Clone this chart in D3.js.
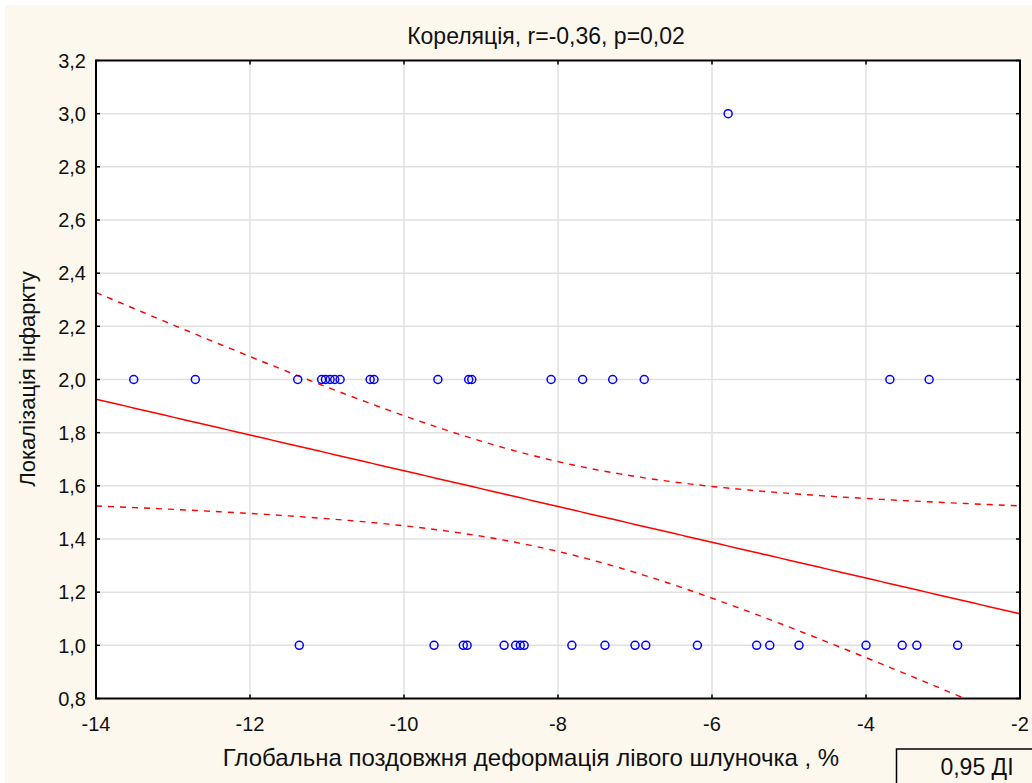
<!DOCTYPE html>
<html>
<head>
<meta charset="utf-8">
<script src="https://cdn.jsdelivr.net/npm/d3@7"></script>
<style>
  body { margin: 0; background: #fff; }
  svg { display: block; font-family: "Liberation Sans", Arial, sans-serif; }
</style>
</head>
<body>
<script>
// points (strain %, localisation code)
const xsTop = [-13.51, -12.71, -11.38, -11.07, -11.02, -10.96, -10.9, -10.83, -10.44, -10.39,
  -9.56, -9.16, -9.12, -8.09, -7.68, -7.29, -6.88, -3.69, -3.18]
const xsBottom = [-11.36, -9.61, -9.23, -9.18, -8.7, -8.55, -8.49, -8.44, -7.82, -7.39,
  -7.0, -6.86, -6.19, -5.42, -5.25, -4.87, -4.0, -3.53, -3.34, -2.81]
const xsThree = [-5.79]

const xTicks = [-14, -12, -10, -8, -6, -4, -2]
const yTicks = [0.8, 1.0, 1.2, 1.4, 1.6, 1.8, 2.0, 2.2, 2.4, 2.6, 2.8, 3.0, 3.2]
const titleText = "Кореляція, r=-0,36, p=0,02"
const xTitle = "Глобальна поздовжня деформація лівого шлуночка , %"
const yTitle = "Локалізація інфаркту"
const legendText = "0,95 ДІ"

const points = []
xsTop.forEach(v => points.push({ x: v, y: 2 }))
xsBottom.forEach(v => points.push({ x: v, y: 1 }))
xsThree.forEach(v => points.push({ x: v, y: 3 }))

const width = 1032
const height = 783
const pLeft = 96, pRight = 1020, pTop = 60.5, pBottom = 698.5

let svg = d3.select("body").append("svg")
  .attr("width", width)
  .attr("height", height)

svg.append("rect").attr("width", width).attr("height", height).attr("fill", "#fff")
svg.append("rect").attr("x", 5).attr("y", 5).attr("width", width).attr("height", height)
  .attr("fill", "#fdf8ee")

let x = d3.scaleLinear().domain([-14, -2]).range([pLeft, pRight])
let y = d3.scaleLinear().domain([0.8, 3.2]).range([pBottom, pTop])

svg.append("rect")
  .attr("x", pLeft).attr("y", pTop)
  .attr("width", pRight - pLeft).attr("height", pBottom - pTop)
  .attr("fill", "#fff")

// grid
let grid = svg.append("g")
grid.selectAll(".gx").data(xTicks.slice(1, -1)).enter()
  .append("line")
  .attr("x1", d => x(d)).attr("x2", d => x(d))
  .attr("y1", pTop).attr("y2", pBottom)
  .attr("stroke", "#e0e0e0").attr("stroke-width", 1.5)
grid.selectAll(".gy").data(yTicks.slice(1, -1)).enter()
  .append("line")
  .attr("x1", pLeft).attr("x2", pRight)
  .attr("y1", d => y(d)).attr("y2", d => y(d))
  .attr("stroke", "#e0e0e0").attr("stroke-width", 1.5)

// regression + 95% band, computed from the points
const n = points.length
const mx = d3.mean(points, d => d.x)
const my = d3.mean(points, d => d.y)
const sxx = d3.sum(points, d => (d.x - mx) ** 2)
const sxy = d3.sum(points, d => (d.x - mx) * (d.y - my))
const slope = sxy / sxx
const icpt = my - slope * mx
const sse = d3.sum(points, d => (d.y - (icpt + slope * d.x)) ** 2)
const se = Math.sqrt(sse / (n - 2))
const tval = 2.024

const xs = d3.range(-14, -1.99, 0.1)
const fit = xs.map(v => icpt + slope * v)
const halfW = xs.map(v => tval * se * Math.sqrt(1 / n + (v - mx) ** 2 / sxx))

let clip = svg.append("clipPath").attr("id", "plotclip")
clip.append("rect").attr("x", pLeft).attr("y", pTop)
  .attr("width", pRight - pLeft).attr("height", pBottom - pTop)

let lines = svg.append("g").attr("clip-path", "url(#plotclip)")
let line = d3.line().x(d => x(d[0])).y(d => y(d[1]))

lines.append("path")
  .attr("d", line(xs.map((v, i) => [v, fit[i]])))
  .attr("fill", "none").attr("stroke", "#ff0000").attr("stroke-width", 1.5)
lines.append("path")
  .attr("d", line(xs.map((v, i) => [v, fit[i] + halfW[i]])))
  .attr("fill", "none").attr("stroke", "#ff0000").attr("stroke-width", 1.4)
  .attr("stroke-dasharray", "6,6")
lines.append("path")
  .attr("d", line(xs.map((v, i) => [v, fit[i] - halfW[i]])))
  .attr("fill", "none").attr("stroke", "#ff0000").attr("stroke-width", 1.4)
  .attr("stroke-dasharray", "6,6")

// points
svg.append("g").selectAll("circle")
  .data(points).enter()
  .append("circle")
  .attr("cx", d => x(d.x))
  .attr("cy", d => y(d.y))
  .attr("r", 4)
  .attr("fill", "none")
  .attr("stroke", "#0000ff")
  .attr("stroke-width", 1.5)

// frame + inward ticks
svg.append("rect")
  .attr("x", pLeft).attr("y", pTop)
  .attr("width", pRight - pLeft).attr("height", pBottom - pTop)
  .attr("fill", "none").attr("stroke", "#000").attr("stroke-width", 2)

let ticks = svg.append("g").attr("stroke", "#000").attr("stroke-width", 1.5)
xTicks.forEach(t => {
  ticks.append("line").attr("x1", x(t)).attr("x2", x(t)).attr("y1", pBottom).attr("y2", pBottom - 4)
  ticks.append("line").attr("x1", x(t)).attr("x2", x(t)).attr("y1", pTop).attr("y2", pTop + 4)
})
yTicks.forEach(t => {
  ticks.append("line").attr("x1", pLeft).attr("x2", pLeft + 4).attr("y1", y(t)).attr("y2", y(t))
  ticks.append("line").attr("x1", pRight).attr("x2", pRight - 4).attr("y1", y(t)).attr("y2", y(t))
})

const fmt = d => d3.format(".1f")(d).replace(".", ",")

svg.append("g").selectAll("text")
  .data(yTicks).enter()
  .append("text")
  .attr("x", 86)
  .attr("y", d => y(d))
  .attr("dy", "0.36em")
  .attr("text-anchor", "end")
  .attr("font-size", 20)
  .attr("fill", "#111")
  .text(fmt)

svg.append("g").selectAll("text")
  .data(xTicks).enter()
  .append("text")
  .attr("x", d => x(d))
  .attr("y", 731)
  .attr("text-anchor", "middle")
  .attr("font-size", 20)
  .attr("fill", "#111")
  .text(d => d3.format("d")(d).replace("−", "-"))

svg.append("text")
  .attr("x", 546).attr("y", 44)
  .attr("text-anchor", "middle")
  .attr("font-size", 23)
  .attr("fill", "#111")
  .text(titleText)

svg.append("text")
  .attr("x", 531).attr("y", 766)
  .attr("text-anchor", "middle")
  .attr("font-size", 24)
  .attr("fill", "#111")
  .text(xTitle)

svg.append("text")
  .attr("transform", "translate(35," + 379 + ") rotate(-90)")
  .attr("text-anchor", "middle")
  .attr("font-size", 22)
  .attr("fill", "#111")
  .text(yTitle)

// legend box, cut at the page edge like the original
svg.append("rect")
  .attr("x", 896.5).attr("y", 749)
  .attr("width", 150).attr("height", 50)
  .attr("fill", "none").attr("stroke", "#000").attr("stroke-width", 1.5)
svg.append("text")
  .attr("x", 977).attr("y", 775)
  .attr("text-anchor", "middle")
  .attr("font-size", 23)
  .attr("fill", "#111")
  .text(legendText)
</script>
</body>
</html>
